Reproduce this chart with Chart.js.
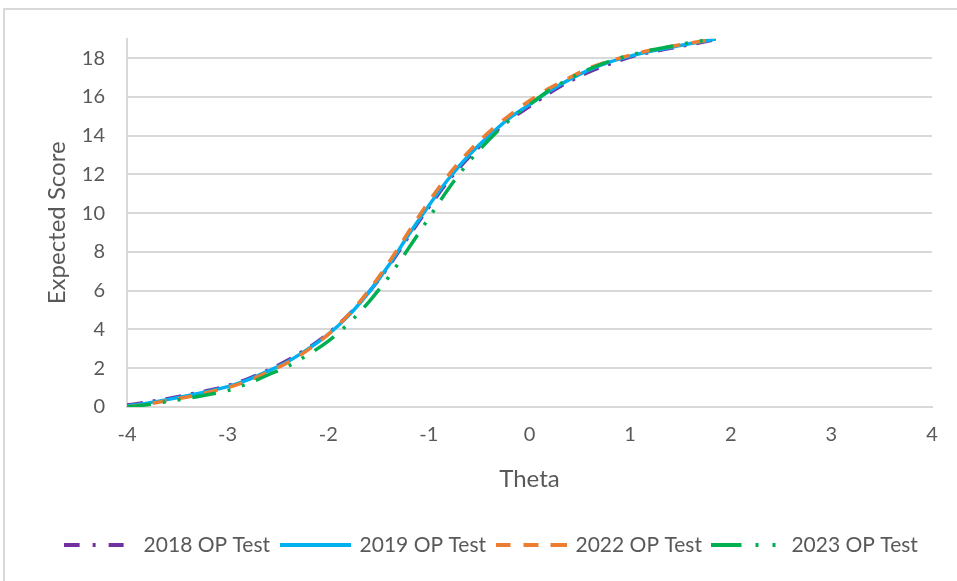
<!DOCTYPE html>
<html>
<head>
<meta charset="utf-8">
<script src="https://cdn.jsdelivr.net/npm/chart.js@4.4.1/dist/chart.umd.min.js"></script>
<style>
  html, body { margin: 0; padding: 0; background: #ffffff; }
  body { width: 957px; height: 581px; overflow: hidden; position: relative; }
  #frame { position: absolute; left: 3px; top: 8px; width: 1100px; height: 700px;
           border-left: 2px solid #D9D9D9; border-top: 2px solid #D9D9D9; }
  #wrap { position: absolute; left: 0; top: 0; width: 983px; height: 581px; }
</style>
</head>
<body>
<div id="frame"></div>
<div id="wrap"><canvas id="c" width="983" height="581"></canvas></div>
<script>
// ---- data ----
const theta = [-4.0, -3.8, -3.6, -3.4, -3.2, -3.0, -2.8, -2.6, -2.4, -2.2, -2.0, -1.8, -1.6, -1.4, -1.2,
               -1.0, -0.8, -0.6, -0.4, -0.2, 0.0, 0.2, 0.4, 0.6, 0.8, 1.0, 1.2, 1.4, 1.6, 1.85];
const score2018 = [0.10, 0.25, 0.43, 0.63, 0.85, 1.10, 1.45, 1.90, 2.42, 3.05, 3.80, 4.75, 5.90, 7.25, 8.80,
                   10.30, 11.70, 12.90, 13.90, 14.80, 15.50, 16.20, 16.80, 17.30, 17.70, 18.05, 18.30, 18.50, 18.70, 18.95];
const score2019 = [0.05, 0.20, 0.38, 0.58, 0.80, 1.05, 1.40, 1.85, 2.35, 3.00, 3.75, 4.70, 5.90, 7.30, 8.90,
                   10.40, 11.80, 13.00, 14.00, 14.90, 15.60, 16.30, 16.90, 17.40, 17.80, 18.10, 18.35, 18.55, 18.75, 18.98];
const score2022 = [0.00, 0.15, 0.33, 0.52, 0.75, 1.00, 1.35, 1.80, 2.30, 2.95, 3.75, 4.75, 6.00, 7.45, 9.05,
                   10.60, 12.00, 13.20, 14.20, 15.05, 15.80, 16.45, 17.00, 17.50, 17.85, 18.15, 18.40, 18.60, 18.78, 18.99];
const score2023 = [0.00, 0.12, 0.28, 0.45, 0.63, 0.85, 1.20, 1.65, 2.10, 2.70, 3.40, 4.30, 5.40, 6.70, 8.20,
                   9.75, 11.30, 12.65, 13.80, 14.80, 15.60, 16.35, 16.95, 17.45, 17.85, 18.15, 18.40, 18.60, 18.80, 19.00];
const seriesNames = ['2018 OP Test', '2019 OP Test', '2022 OP Test', '2023 OP Test'];
const xTicks = [-4, -3, -2, -1, 0, 1, 2, 3, 4];
const yTicks = [0, 2, 4, 6, 8, 10, 12, 14, 16, 18];
const xTitle = 'Theta';
const yTitle = 'Expected Score';

// ---- styles ----
const colors = ['#7030A0', '#00B0F0', '#ED7D31', '#00B050'];
const dashes = [[16, 10, 3, 10], [], [14, 12], [24, 12, 3, 12, 3, 12]];
const legendSegs = [
  [[0, 16], [29, 32], [45, 60]],
  [[0, 71]],
  [[0, 15], [28, 43], [55, 71]],
  [[0, 30], [44, 47], [61, 64]]
];
const textColor = '#595959';
const gridColor = '#D9D9D9';
const FONT = 'Lato, "Open Sans", sans-serif';

function legendSymbol(i) {
  const c = document.createElement('canvas');
  c.width = 71; c.height = 8;
  const g = c.getContext('2d');
  g.strokeStyle = colors[i];
  g.lineWidth = 4;
  g.lineCap = 'butt';
  for (const [a, b] of legendSegs[i]) {
    g.beginPath(); g.moveTo(a, 4); g.lineTo(b, 4); g.stroke();
  }
  return c;
}

const allScores = [score2018, score2019, score2022, score2023];
const datasets = allScores.map((s, i) => ({
  label: seriesNames[i],
  data: theta.map((t, k) => ({ x: t, y: s[k] })),
  borderColor: colors[i],
  backgroundColor: colors[i],
  borderWidth: 3.5,
  borderDash: dashes[i],
  borderCapStyle: 'butt',
  pointRadius: 0,
  pointHoverRadius: 0,
  pointStyle: legendSymbol(i),
  cubicInterpolationMode: 'monotone',
  fill: false,
  order: 4 - i
}));

new Chart(document.getElementById('c'), {
  type: 'line',
  data: { datasets },
  options: {
    responsive: false,
    animation: false,
    layout: { padding: { top: 38.7, bottom: 15.5, left: 0, right: 0 } },
    plugins: {
      legend: {
        position: 'bottom',
        labels: {
          usePointStyle: true,
          pointStyleWidth: 68,
          padding: 11,
          color: textColor,
          font: { family: FONT, size: 21 },
          sort: (a, b) => a.datasetIndex - b.datasetIndex
        }
      },
      tooltip: { enabled: false }
    },
    scales: {
      x: {
        type: 'linear',
        min: xTicks[0], max: xTicks[xTicks.length - 1],
        afterBuildTicks: (s) => { s.ticks = xTicks.map(v => ({ value: v })); },
        afterFit: (s) => { s.height = 116.5; },
        grid: { display: false, drawTicks: false },
        border: { display: true, color: gridColor, width: 2 },
        ticks: { color: textColor, font: { family: FONT, size: 20 }, padding: 16, maxRotation: 0 },
        title: { display: true, text: xTitle, color: textColor, font: { family: FONT, size: 24 },
                 padding: { top: 0, bottom: 30 } }
      },
      y: {
        type: 'linear',
        min: 0, max: 19,
        afterBuildTicks: (s) => { s.ticks = yTicks.map(v => ({ value: v })); },
        afterFit: (s) => { s.width = 127; },
        grid: { color: gridColor, lineWidth: 2, drawTicks: false },
        border: { display: true, color: gridColor, width: 2 },
        ticks: { color: textColor, font: { family: FONT, size: 20 }, padding: 22 },
        title: { display: true, text: yTitle, color: textColor, font: { family: FONT, size: 24 },
                 padding: { top: 42.6, bottom: 0 } }
      },
      y2: {
        type: 'linear',
        axis: 'y',
        position: 'right',
        display: true,
        afterFit: (s) => { s.width = 51; },
        grid: { display: false, drawTicks: false },
        border: { display: false },
        ticks: { display: false }
      }
    }
  }
});
</script>
</body>
</html>
